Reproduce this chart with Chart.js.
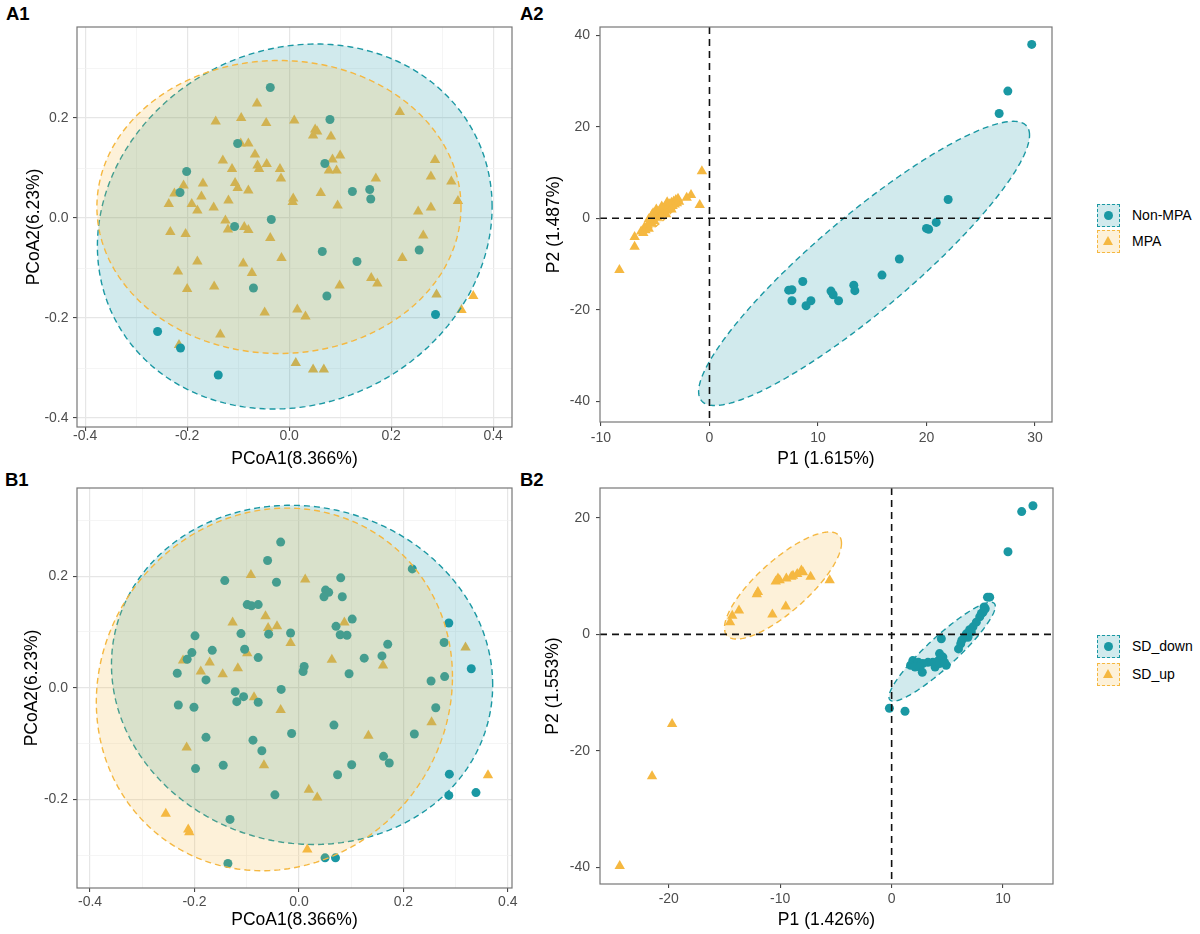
<!DOCTYPE html>
<html><head><meta charset="utf-8">
<script src="https://cdn.jsdelivr.net/npm/chart.js@4.4.1/dist/chart.umd.min.js"></script>
<style>
body{margin:0;background:#fff;width:1200px;height:934px;position:relative;overflow:hidden;font-family:"Liberation Sans",Arial,sans-serif}
.panel{position:absolute}
.lab{position:absolute;font-weight:bold;font-size:18.5px;line-height:18px;color:#000}
.item{position:absolute;display:flex;align-items:center;height:24px;font-size:14px;color:#000}
.key{width:21px;height:21px;border:1.5px dashed;position:relative;margin-right:12px}
.dot{position:absolute;left:6px;top:6px;width:9px;height:9px;border-radius:50%}
.tri{position:absolute;left:5px;top:5px;width:0;height:0;border-left:5.5px solid transparent;border-right:5.5px solid transparent;border-bottom:9.5px solid}
</style></head>
<body>
<div class="lab" style="left:6px;top:5px">A1</div>
<div class="lab" style="left:520px;top:5px">A2</div>
<div class="lab" style="left:5px;top:471px">B1</div>
<div class="lab" style="left:520px;top:471px">B2</div>
<div class="panel" style="left:0;top:0"><canvas id="a1" width="540" height="470"></canvas></div>
<div class="panel" style="left:540px;top:0"><canvas id="a2" width="540" height="470"></canvas></div>
<div class="panel" style="left:0;top:470px"><canvas id="b1" width="540" height="464"></canvas></div>
<div class="panel" style="left:540px;top:470px"><canvas id="b2" width="540" height="464"></canvas></div>
<div id="legends"></div>
<script>
// ---------- colours ----------
const TEAL = '#1a98a3', ORANGE = '#f5b841';
const TEAL_FILL = 'rgba(26,152,163,0.2)', ORANGE_FILL = 'rgba(245,184,65,0.2)';

// ---------- legend labels ----------
const legendA = ['Non-MPA', 'MPA'];
const legendB = ['SD_down', 'SD_up'];

// ---------- axis titles ----------
const titlesA1 = ['PCoA1(8.366%)', 'PCoA2(6.23%)'];
const titlesA2 = ['P1 (1.615%)', 'P2 (1.487%)'];
const titlesB1 = ['PCoA1(8.366%)', 'PCoA2(6.23%)'];
const titlesB2 = ['P1 (1.426%)', 'P2 (1.553%)'];

// ---------- ticks ----------
const pcoaMajorX = [-0.4, -0.2, 0.0, 0.2, 0.4];
const pcoaMinorX = [-0.3, -0.1, 0.1, 0.3];
const a1MajorY = [-0.4, -0.2, 0.0, 0.2];
const a1MinorY = [-0.3, -0.1, 0.1, 0.3];
const b1MajorY = [-0.2, 0.0, 0.2];
const b1MinorY = [-0.3, -0.1, 0.1, 0.3];
const a2TicksX = [-10, 0, 10, 20, 30];
const a2TicksY = [-40, -20, 0, 20, 40];
const b2TicksX = [-20, -10, 0, 10];
const b2TicksY = [-40, -20, 0, 20];

// ---------- axis ranges ----------
const a1RangeX = [-0.416, 0.437], a1RangeY = [-0.418, 0.382];
const a2RangeX = [-10.09, 31.57], a2RangeY = [-44.5, 41.8];
const b1RangeX = [-0.425, 0.408], b1RangeY = [-0.359, 0.358];
const b2RangeX = [-26.17, 14.48], b2RangeY = [-42.9, 25.16];

// ---------- ellipses: [cx, cy, x half-extent, y half-extent, correlation] ----------
const a1EllNonMPA = [0.011, -0.017, 0.387, 0.365, 0.108];
const a1EllMPA = [-0.020, 0.022, 0.357, 0.293, 0.0];
const a2EllNonMPA = [14.25, -9.85, 15.25, 31.05, 0.902];
const a2EllMPA = [-4.3, 0.8, 1.6, 3.6, 0.93];
const b1EllDown = [0.006, 0.023, 0.365, 0.304, -0.06];
const b1EllUp = [-0.047, -0.003, 0.341, 0.325, 0.07];
const b2EllDown = [4.53, -2.97, 4.77, 8.5, 0.915];
const b2EllUp = [-9.75, 8.4, 5.25, 9.2, 0.79];

// ---------- A1 points ----------
const a1NonMPA = [[-0.037,0.261],[0.080,0.197],[-0.101,0.149],[-0.201,0.093],[-0.214,0.051],[0.070,0.109],[0.124,0.053],[0.158,0.057],[0.160,0.038],[-0.035,-0.003],[-0.107,-0.017],
[0.065,-0.067],[0.133,-0.087],[0.255,-0.064],[-0.070,-0.140],[0.074,-0.156],[0.287,-0.193],[-0.258,-0.227],[-0.213,-0.260],[-0.139,-0.314]];
const a1MPA = [[-0.063,0.229],[-0.144,0.193],[-0.094,0.200],[-0.045,0.190],[0.010,0.195],[0.217,0.212],[0.051,0.177],[0.055,0.173],[0.047,0.165],[0.082,0.163],[-0.095,0.149],[-0.080,0.149],[-0.067,0.127],[-0.130,0.115],[-0.062,0.105],[-0.059,0.098],[-0.044,0.108],[-0.112,0.098],[-0.018,0.098],[-0.016,0.079],[0.085,0.117],[0.100,0.125],[0.078,0.095],[0.093,0.095],[0.170,0.079],[0.286,0.116],[0.278,0.083],[0.318,0.073],[0.331,0.034],[0.278,0.021],[0.253,0.013],[-0.106,0.070],[-0.101,0.060],[-0.080,0.055],[-0.169,0.069],[-0.207,0.065],[-0.225,0.049],[-0.172,0.043],[-0.236,0.028],[-0.191,0.028],[-0.180,0.015],[-0.148,0.021],[-0.119,0.035],[0.008,0.039],[0.007,0.032],[0.062,0.050],[0.095,0.025],[-0.125,-0.005],[-0.120,-0.023],[-0.088,-0.018],[-0.080,-0.024],[-0.233,-0.028],[-0.203,-0.032],[-0.037,-0.040],[0.263,-0.035],
[-0.180,-0.087],[-0.218,-0.107],[-0.090,-0.091],[-0.073,-0.110],[-0.015,-0.080],[0.222,-0.080],[-0.200,-0.142],[-0.147,-0.137],[0.099,-0.135],[0.161,-0.120],[0.173,-0.131],[0.289,-0.153],[0.361,-0.156],[0.338,-0.184],[-0.048,-0.189],[0.016,-0.183],[0.032,-0.197],[-0.135,-0.233],[-0.216,-0.254],[0.013,-0.290],[0.047,-0.303],[0.068,-0.303]];

// ---------- A2 points ----------
const a2NonMPA = [[29.7,38.0],[27.5,27.8],[26.7,22.9],[22.0,4.1],[20.9,-0.9],[20.0,-2.2],[20.2,-2.4],[17.5,-8.9],[15.9,-12.4],[13.3,-14.6],[13.4,-15.8],[11.2,-15.9],[11.4,-16.7],[11.9,-18.0],[8.6,-13.8],[7.3,-15.7],[7.6,-15.6],[7.6,-18.0],[9.35,-18.0],[8.9,-19.1]];
const a2MPA = [[-0.7,10.3],[-0.9,2.9],[-1.7,5.1],[-2.1,4.5],[-6.9,-4.1],[-6.9,-6.2],[-8.3,-11.3],[-6.3,-2.9],[-6.0,-2.0],
[-6.1,-3.2],[-5.9,-2.6],[-5.8,-2.0],[-5.7,-1.5],[-5.6,-2.3],[-5.5,-1.0],[-5.4,-0.4],[-5.3,-1.2],[-5.2,0.2],[-5.1,-0.6],[-5.0,0.6],[-4.9,1.0],[-4.8,0.1],[-4.7,1.4],[-4.6,0.5],[-4.5,1.8],[-4.4,1.0],[-4.3,2.1],[-4.2,1.4],[-4.1,2.5],[-4.0,1.8],[-3.9,2.8],[-3.8,2.0],[-3.7,3.1],[-3.6,2.4],[-3.5,3.4],[-3.4,2.7],[-3.3,3.7],[-3.2,3.0],[-3.1,4.0],[-3.0,3.3],[-2.9,4.3],[-2.8,3.6],[-4.9,1.9],[-5.2,1.1],[-4.4,2.6],[-3.9,3.5],[-5.6,-0.2],[-4.0,0.9],[-3.5,1.9],[-5.3,0.7]];

// ---------- B1 points ----------
const b1Down = [[-0.035,0.261],[-0.060,0.228],[-0.142,0.192],[-0.043,0.189],[0.080,0.197],[0.217,0.213],[0.051,0.175],[0.057,0.171],[0.048,0.163],[0.083,0.163],[-0.099,0.149],[-0.091,0.147],[-0.078,0.149],[0.287,0.116],[0.102,0.123],[0.071,0.110],[0.079,0.095],[0.092,0.094],[-0.199,0.093],[-0.111,0.097],[-0.058,0.096],[-0.016,0.098],[0.170,0.078],[0.278,0.081],[-0.104,0.069],[-0.205,0.063],[-0.166,0.067],[-0.214,0.051],[-0.078,0.054],[0.125,0.053],[0.159,0.057],[0.010,0.038],[0.008,0.029],[0.096,0.025],[-0.233,0.026],[-0.178,0.014],[0.330,0.034],[0.253,0.012],[0.279,0.020],[-0.034,-0.003],[-0.122,-0.007],[-0.106,-0.016],[-0.119,-0.025],[-0.078,-0.026],[-0.231,-0.031],[-0.201,-0.035],[0.262,-0.036],
[0.067,-0.067],[-0.014,-0.082],[0.221,-0.083],[-0.178,-0.089],[-0.088,-0.094],[-0.071,-0.113],[0.162,-0.123],[0.173,-0.135],[0.101,-0.138],[-0.198,-0.145],[-0.145,-0.139],[0.074,-0.156],[0.288,-0.155],[-0.046,-0.192],[0.287,-0.193],[0.339,-0.188],[-0.132,-0.236],[0.050,-0.305],[0.070,-0.305],[-0.136,-0.315]];
const b1Up = [[-0.092,0.202],[0.012,0.194],[-0.064,0.128],[-0.127,0.117],[-0.059,0.107],[-0.042,0.110],[0.087,0.117],[-0.016,0.080],[0.319,0.072],[-0.222,0.049],[-0.171,0.045],[-0.099,0.062],[0.063,0.050],[0.161,0.040],[-0.188,0.029],[-0.117,0.035],[-0.146,0.024],[-0.086,-0.017],[-0.035,-0.040],[0.254,-0.062],[0.133,-0.086],[-0.215,-0.107],[-0.067,-0.139],[0.362,-0.157],[0.019,-0.183],[0.035,-0.197],[-0.255,-0.226],[-0.212,-0.254],[-0.210,-0.259],[0.016,-0.290]];

// ---------- B2 points ----------
const b2Down = [[12.68,22.1],[11.67,21.1],[10.44,14.2],[8.6,6.4],[8.8,6.4],[8.3,4.7],[8.2,3.8],[7.9,3.0],[7.6,2.1],[7.3,1.3],[7.0,0.8],[6.7,0.1],[6.55,-0.5],[6.3,-1.0],[6.2,-1.6],[6.0,-2.5],[4.46,-0.74],[4.3,-3.3],[4.6,-3.9],[4.9,-5.3],[4.2,-4.5],[3.7,-4.8],[3.26,-4.8],[2.8,-5.0],[2.4,-4.8],[1.9,-4.5],[1.7,-5.3],[2.1,-5.6],[2.5,-5.6],[2.75,-6.5],[3.9,-5.6],[4.3,-5.0],[4.75,-4.8],[6.85,-0.5],[7.15,0.4],[8.05,3.6],[8.4,4.4],[-0.2,-12.7],[1.2,-13.2]];
const b2Up = [[-5.56,9.3],[-7.27,9.9],[-8.1,11.0],[-7.96,10.7],[-8.85,10.1],[-9.0,9.9],[-9.45,9.6],[-10.05,9.3],[-10.4,9.1],[-10.2,9.6],[-8.47,10.4],[-12.0,7.3],[-12.1,6.9],[-13.7,4.1],[-14.3,3.2],[-14.5,2.1],[-10.7,3.4],[-9.5,4.8],[-19.7,-15.4],[-21.5,-24.4],[-24.4,-39.8]];

// ---------- drawing ----------
const FONT = '"Liberation Sans", Arial, sans-serif';
const near = (arr, v) => arr.some(a => Math.abs(a - v) < 1e-9);

function overlayPlugin(p) {
  return {
    id: 'overlay',
    afterDatasetsDraw(chart) {
      const {ctx, chartArea: a, scales: {x, y}} = chart;
      ctx.save();
      ctx.beginPath();
      ctx.rect(a.left, a.top, a.right - a.left, a.bottom - a.top);
      ctx.clip();
      for (const e of p.ellipses) {
        const [cx, cy, rx, ry, rho] = e.par;
        const k = Math.sqrt(1 - rho * rho);
        ctx.beginPath();
        for (let i = 0; i <= 240; i++) {
          const t = i / 240 * 2 * Math.PI;
          const px = x.getPixelForValue(cx + rx * Math.cos(t));
          const py = y.getPixelForValue(cy + ry * (rho * Math.cos(t) + k * Math.sin(t)));
          if (i) ctx.lineTo(px, py); else ctx.moveTo(px, py);
        }
        ctx.closePath();
        ctx.fillStyle = e.fill;
        ctx.fill();
        ctx.setLineDash([6, 4]);
        ctx.lineWidth = 1.4;
        ctx.strokeStyle = e.line;
        ctx.stroke();
      }
      if (p.refLines) {
        ctx.setLineDash([7, 5]);
        ctx.lineWidth = 1.6;
        ctx.strokeStyle = '#111';
        const x0 = x.getPixelForValue(0), y0 = y.getPixelForValue(0);
        ctx.beginPath(); ctx.moveTo(x0, a.top); ctx.lineTo(x0, a.bottom); ctx.stroke();
        ctx.beginPath(); ctx.moveTo(a.left, y0); ctx.lineTo(a.right, y0); ctx.stroke();
      }
      ctx.restore();
      ctx.save();
      ctx.strokeStyle = '#777';
      ctx.lineWidth = 1.2;
      ctx.strokeRect(a.left, a.top, a.right - a.left, a.bottom - a.top);
      ctx.restore();
    }
  };
}

function axis(o) {
  const all = o.major.concat(o.minor || []).sort((a, b) => a - b);
  return {
    type: 'linear', min: o.range[0], max: o.range[1],
    afterBuildTicks: s => { s.ticks = all.map(v => ({value: v})); },
    afterFit: s => { if (o.w !== undefined) s.width = o.w; if (o.h !== undefined) s.height = o.h; },
    border: {display: false},
    grid: {
      display: true, drawOnChartArea: !!o.grid, drawTicks: true, tickLength: 4, tickWidth: 1,
      color: c => near(o.major, c.tick.value) ? '#e6e6e6' : '#f0f0f0',
      lineWidth: c => near(o.major, c.tick.value) ? 1.2 : 0.7,
      tickColor: c => near(o.major, c.tick.value) ? '#333333' : 'rgba(0,0,0,0)'
    },
    ticks: {
      autoSkip: false, maxRotation: 0, padding: o.tp, color: '#4d4d4d',
      font: {family: FONT, size: 14},
      callback: v => near(o.major, v) ? (o.dec ? v.toFixed(o.dec) : String(v)) : ''
    },
    title: {display: true, text: o.title, color: '#000', font: {family: FONT, size: 17.5},
      padding: o.titlePad}
  };
}

function panel(id, p) {
  return new Chart(document.getElementById(id), {
    type: 'scatter',
    data: {datasets: p.series.map(s => ({
      data: s.pts.map(([x, y]) => ({x, y})),
      pointStyle: s.style, pointRadius: s.r, pointHoverRadius: s.r,
      pointBackgroundColor: s.color, pointBorderWidth: 0, showLine: false
    }))},
    options: {
      responsive: false, animation: false, events: [],
      layout: {padding: p.pad},
      plugins: {legend: {display: false}, tooltip: {enabled: false}},
      scales: {x: axis(p.x), y: axis(p.y)}
    },
    plugins: [overlayPlugin(p)]
  });
}

const circ = (pts) => ({pts, style: 'circle', r: 4.5, color: TEAL});
const tri = (pts) => ({pts, style: 'triangle', r: 6, color: ORANGE});

panel('a1', {
  pad: {left: 0, top: 27, right: 28, bottom: 0},
  series: [circ(a1NonMPA), tri(a1MPA)],
  ellipses: [{par: a1EllNonMPA, fill: TEAL_FILL, line: TEAL}, {par: a1EllMPA, fill: ORANGE_FILL, line: ORANGE}],
  x: {range: a1RangeX, major: pcoaMajorX, minor: pcoaMinorX, grid: true, dec: 1, h: 43, tp: -3, title: titlesA1[0], titlePad: {top: 0, bottom: 0.5}},
  y: {range: a1RangeY, major: a1MajorY, minor: a1MinorY, grid: true, dec: 1, w: 77, tp: 4.5, title: titlesA1[1], titlePad: {top: 24, bottom: 0}}
});
panel('a2', {
  pad: {left: 0, top: 27, right: 28, bottom: 0},
  series: [circ(a2NonMPA), tri(a2MPA)],
  ellipses: [{par: a2EllNonMPA, fill: TEAL_FILL, line: TEAL}, {par: a2EllMPA, fill: ORANGE_FILL, line: ORANGE}],
  refLines: true,
  x: {range: a2RangeX, major: a2TicksX, grid: false, h: 48, tp: 3.6, title: titlesA2[0], titlePad: {top: 0, bottom: 0.5}},
  y: {range: a2RangeY, major: a2TicksY, grid: false, w: 60, tp: 6, title: titlesA2[1], titlePad: {top: 4, bottom: 0}}
});
panel('b1', {
  pad: {left: 0, top: 18, right: 28, bottom: 0},
  series: [circ(b1Down), tri(b1Up)],
  ellipses: [{par: b1EllDown, fill: TEAL_FILL, line: TEAL}, {par: b1EllUp, fill: ORANGE_FILL, line: ORANGE}],
  x: {range: b1RangeX, major: pcoaMajorX, minor: pcoaMinorX, grid: true, dec: 1, h: 46, tp: 1.9, title: titlesB1[0], titlePad: {top: 0, bottom: 3.5}},
  y: {range: b1RangeY, major: b1MajorY, minor: b1MinorY, grid: true, dec: 1, w: 77, tp: 5, title: titlesB1[1], titlePad: {top: 22, bottom: 0}}
});
panel('b2', {
  pad: {left: 0, top: 18, right: 27, bottom: 0},
  series: [circ(b2Down), tri(b2Up)],
  ellipses: [{par: b2EllDown, fill: TEAL_FILL, line: TEAL}, {par: b2EllUp, fill: ORANGE_FILL, line: ORANGE}],
  refLines: true,
  x: {range: b2RangeX, major: b2TicksX, grid: false, h: 50, tp: 2.9, title: titlesB2[0], titlePad: {top: 0, bottom: 3.5}},
  y: {range: b2RangeY, major: b2TicksY, grid: false, w: 60, tp: 6, title: titlesB2[1], titlePad: {top: 2.5, bottom: 0}}
});

// ---------- legends ----------
function legend(labels, tops) {
  const box = document.getElementById('legends');
  labels.forEach((txt, i) => {
    const teal = i === 0;
    const it = document.createElement('div');
    it.className = 'item';
    it.style.left = '1097px';
    it.style.top = tops[i] + 'px';
    const key = document.createElement('div');
    key.className = 'key';
    key.style.borderColor = teal ? TEAL : ORANGE;
    key.style.background = teal ? TEAL_FILL : ORANGE_FILL;
    const mk = document.createElement('div');
    mk.className = teal ? 'dot' : 'tri';
    if (teal) mk.style.background = TEAL; else mk.style.borderBottomColor = ORANGE;
    key.appendChild(mk);
    const span = document.createElement('span');
    span.textContent = txt;
    it.appendChild(key);
    it.appendChild(span);
    box.appendChild(it);
  });
}
legend(legendA, [203, 229]);
legend(legendB, [634, 662]);
</script>
</body></html>
